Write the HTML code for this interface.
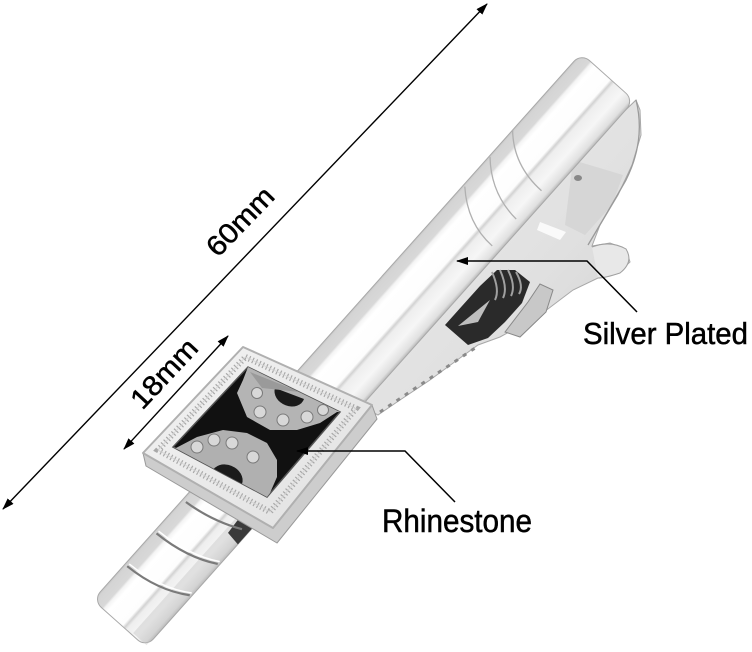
<!DOCTYPE html>
<html><head><meta charset="utf-8"><style>html,body{margin:0;padding:0;background:#fff;}svg{display:block}</style></head>
<body>
<svg width="752" height="652" viewBox="0 0 752 652" xmlns="http://www.w3.org/2000/svg">
<defs>
<linearGradient id="barG" gradientUnits="userSpaceOnUse" x1="0" y1="0" x2="0" y2="71">
<stop offset="0" stop-color="#c4c4c4"/>
<stop offset="0.03" stop-color="#d4d4d4"/>
<stop offset="0.17" stop-color="#d8d8d8"/>
<stop offset="0.2" stop-color="#f4f4f4"/>
<stop offset="0.26" stop-color="#ffffff"/>
<stop offset="0.55" stop-color="#fdfdfd"/>
<stop offset="0.59" stop-color="#d2d2d2"/>
<stop offset="0.63" stop-color="#eeeeee"/>
<stop offset="0.8" stop-color="#f6f6f6"/>
<stop offset="0.95" stop-color="#e0e0e0"/>
<stop offset="1" stop-color="#b8b8b8"/>
</linearGradient>
<linearGradient id="jawG" x1="0" y1="0" x2="1" y2="1">
<stop offset="0" stop-color="#efefef"/><stop offset="0.6" stop-color="#e0e0e0"/><stop offset="1" stop-color="#d0d0d0"/>
</linearGradient>
<linearGradient id="frameG" x1="0" y1="0" x2="1" y2="1">
<stop offset="0" stop-color="#f4f4f4"/><stop offset="1" stop-color="#e0e0e0"/>
</linearGradient>
<marker id="ah" viewBox="0 0 12 8" refX="11" refY="4" markerWidth="12" markerHeight="8" markerUnits="userSpaceOnUse" orient="auto-start-reverse"><path d="M0,0 L12,4 L0,8 Z" fill="#000"/></marker>
<clipPath id="inner"><polygon points="248,367 340,412 267,497 173,447"/></clipPath>
</defs>

<!-- jaw / hinge behind bar -->
<polygon points="360,405 378,415 400,400 430,380 460,358 478,345 500,337 540,315 573,290 598,278 618,273 630,262 626,249 610,243 592,246 600,225 618,195 632,165 641,135 640,110 636,100 611,124 560,180 500,250 445,311 400,360" fill="url(#jawG)" stroke="#a8a8a8" stroke-width="1"/>
<polygon points="573,160 623,175 612,205 585,235 565,225" fill="#d2d2d2" opacity="0.7"/>
<path d="M636,100 Q646,140 626,180 Q606,215 588,245" stroke="#9a9a9a" stroke-width="1.3" fill="none"/>
<path d="M540,222 L566,232 L560,240 L537,230 Z" fill="#fafafa"/>
<ellipse cx="578" cy="178" rx="4" ry="3" fill="#888"/>
<path d="M592,247 Q610,240 626,249 Q634,262 620,273 Q605,278 598,278" fill="#e8e8e8" stroke="#a0a0a0" stroke-width="1"/>
<!-- teeth -->
<path d="M380,412 L478,346" stroke="#8a8a8a" stroke-width="3" stroke-dasharray="4 6" fill="none"/>
<!-- spring -->
<polygon points="445,325 462,306 480,286 497,270 515,270 530,282 522,303 505,322 488,338 468,345" fill="#2a2a2a"/>
<polygon points="458,326 490,300 478,322" fill="#d8d8d8" opacity="0.85"/>
<g stroke="#a0a0a0" stroke-width="2" fill="none">
<path d="M492,272 Q500,290 495,300"/>
<path d="M500,270 Q508,288 503,298"/>
<path d="M508,270 Q516,286 511,296"/>
<path d="M516,272 Q524,286 519,294"/>
</g>
<polygon points="505,332 528,302 540,284 553,290 546,312 520,337" fill="#c8c8c8" stroke="#888" stroke-width="1"/>

<!-- main bar -->
<g transform="translate(93,600) rotate(-48.24)">
<rect x="0" y="0" width="733" height="71" rx="11" fill="url(#barG)" stroke="#a8a8a8" stroke-width="1"/>
<rect x="2" y="52" width="172" height="18" fill="#c0c0c0" opacity="0.4"/>
<polygon points="140,56 165,54 168,71 138,71" fill="#3a3a3a"/>
<g fill="none">
<path d="M48,3 Q50,42 68,69" stroke="#7a7a7a" stroke-width="2.2"/>
<path d="M51,3 Q53,42 71,69" stroke="#fff" stroke-width="1.5"/>
<path d="M92,3 Q94,42 110,69" stroke="#7a7a7a" stroke-width="2.2"/>
<path d="M95,3 Q97,42 113,69" stroke="#fff" stroke-width="1.5"/>
<path d="M135,4 Q138,36 152,64" stroke="#7a7a7a" stroke-width="2.2"/>
<path d="M630,0 Q604,24 604,62" stroke="#b0b0b0" stroke-width="1.3"/>
<path d="M595,1 Q568,26 566,62" stroke="#b0b0b0" stroke-width="1.3"/>
<path d="M556,2 Q530,28 530,62" stroke="#b0b0b0" stroke-width="1.3"/>
</g>
</g>

<!-- square ornament -->
<polygon points="143,453 273,528 372,405 377,419 277,543 146,466" fill="#cdcdcd" stroke="#999" stroke-width="1" stroke-linejoin="round"/>
<polygon points="243,347 372,405 273,528 143,453" fill="url(#frameG)" stroke="#b0b0b0" stroke-width="2" stroke-linejoin="round"/>
<polygon points="245.5,357 356,408.5 270,512 158,450" fill="none" stroke="#a8a8a8" stroke-width="6" stroke-dasharray="1.2 2.6"/>
<polygon points="245.5,357 356,408.5 270,512 158,450" fill="none" stroke="#d4d4d4" stroke-width="0.8"/>
<polygon points="248,367 340,412 267,497 173,447" fill="#111" stroke="#555" stroke-width="1.5"/>
<g clip-path="url(#inner)">
<polygon points="248,367 340,412 337,412 320,423 297,430 270,430 247,417 237,393 243,380" fill="#b4b4b4"/>
<path d="M275,388 A15,12 25 0 0 304,399 Z" fill="#1a1a1a"/>
<polygon points="176,448 197,437 223,430 247,433 267,443 277,460 277,477 270,493 267,497 173,447" fill="#b0b0b0"/>
<path d="M212,472 A15,12 25 0 1 242,484 Z" fill="#1a1a1a"/>
<polygon points="250,372 300,392 262,388" fill="#9a9a9a"/>
</g>
<g fill="#d8d8d8" stroke="#7a7a7a" stroke-width="1">
<circle cx="260" cy="412" r="6"/>
<circle cx="283" cy="420" r="6"/>
<circle cx="307" cy="417" r="6"/>
<circle cx="257" cy="393" r="5.5"/>
<circle cx="323" cy="410" r="5.5"/>
<circle cx="197" cy="447" r="6"/>
<circle cx="214" cy="440" r="6"/>
<circle cx="232" cy="443" r="6"/>
<circle cx="253" cy="457" r="6"/>
</g>

<!-- dimension arrows -->
<line x1="3" y1="509" x2="487" y2="4" stroke="#000" stroke-width="1.4" marker-start="url(#ah)" marker-end="url(#ah)"/>
<line x1="124" y1="449" x2="228" y2="336" stroke="#000" stroke-width="1.4" marker-start="url(#ah)" marker-end="url(#ah)"/>

<!-- leaders -->
<polyline points="637,312 587,261 457,261" fill="none" stroke="#000" stroke-width="1.5" marker-end="url(#ah)"/>
<polyline points="455,502 405,451 297,451" fill="none" stroke="#000" stroke-width="1.5" marker-end="url(#ah)"/>

<!-- labels -->
<g font-family="'Liberation Sans', sans-serif" fill="#000" stroke="#000" stroke-width="0.5">
<text transform="translate(247,228) rotate(-46)" x="-42" y="0" font-size="28" textLength="84" lengthAdjust="spacingAndGlyphs">60mm</text>
<text transform="translate(171,380) rotate(-47)" x="-42" y="0" font-size="28" textLength="84" lengthAdjust="spacingAndGlyphs">18mm</text>
<text x="583" y="344" font-size="31" textLength="165" lengthAdjust="spacingAndGlyphs">Silver Plated</text>
<text x="382" y="532" font-size="32" textLength="150" lengthAdjust="spacingAndGlyphs">Rhinestone</text>
</g>
</svg>
</body></html>
